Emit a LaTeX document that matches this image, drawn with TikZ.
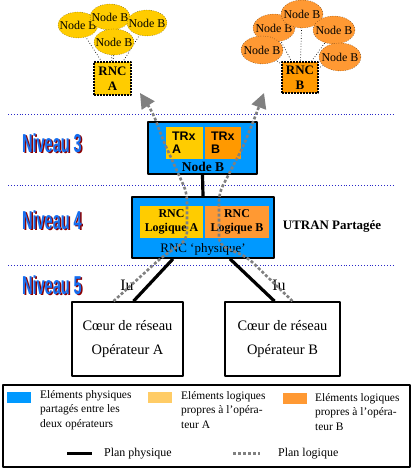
\documentclass[tikz,border=0pt]{standalone}
\usepackage{fontspec}
\setmainfont{Liberation Serif}
\newfontfamily\arialfont{Liberation Sans}
\usetikzlibrary{shapes.geometric,arrows.meta}
\pgfdeclarelayer{background}
\pgfsetlayers{background,main}
\definecolor{physblue}{RGB}{0,153,255}
\definecolor{yellowA}{RGB}{255,204,0}
\definecolor{yellowkey}{RGB}{255,204,102}
\definecolor{orangeB}{RGB}{255,153,0}
\definecolor{orangekey}{RGB}{255,153,51}
\definecolor{logicgray}{RGB}{128,128,128}
\definecolor{levelblue}{RGB}{40,40,200}
\definecolor{niveaublue}{RGB}{20,110,240}
\definecolor{niveaured}{RGB}{140,0,0}
\tikzset{
  level/.style={levelblue,dotted,line width=0.9bp},
  niveau/.style={font=\arialfont\bfseries\fontsize{26}{26}\selectfont,xscale=0.56,inner sep=0pt},
  physbox/.style={draw,line width=1.8bp,fill=physblue,inner sep=0pt},
  trx/.style={draw=none,inner xsep=6bp,inner ysep=0pt,text width=25bp,minimum height=32bp,align=left,font=\arialfont\bfseries\fontsize{12.5}{13}\selectfont},
  logrnc/.style={draw=none,inner sep=0pt,minimum height=32bp,align=center,font=\bfseries\fontsize{12}{14.5}\selectfont},
  rncop/.style={draw,dash pattern=on 2bp off 1bp,line width=1.2bp,inner sep=0pt,align=center,font=\bfseries\fontsize{13}{15}\selectfont},
  nodeBA/.style={ellipse,draw,dotted,fill=yellowA,inner sep=0pt,minimum width=40bp,minimum height=26bp,label={[font=\fontsize{12}{12}\selectfont]center:Node B}},
  nodeBB/.style={ellipse,draw,dotted,fill=orangekey,inner sep=0pt,minimum width=42bp,minimum height=28bp,label={[font=\fontsize{12}{12}\selectfont]center:Node B}},
  clusterlink/.style={dotted,line width=0.7bp},
  phys/.style={black,line width=3.2bp},
  logic/.style={logicgray,line width=2.6bp,dash pattern=on 3bp off 2bp,rounded corners=8bp},
  core/.style={draw,line width=1.6bp,inner sep=0pt,align=center,font=\fontsize{14.5}{25}\selectfont},
  keytext/.style={inner sep=0pt,anchor=north west,align=left,font=\fontsize{11.5}{14.5}\selectfont},
}
\begin{document}
\begin{tikzpicture}[>=latex,line join=bevel,]
\useasboundingbox (0bp,0bp) rectangle (417bp,469bp);
%% operator clusters
\node (nbA1) at (78bp,444bp) [nodeBA] {};
  \node (nbA2) at (110bp,452bp) [nodeBA] {};
  \node (nbA3) at (147bp,446bp) [nodeBA] {};
  \node (nbA4) at (114bp,427bp) [nodeBA] {};
  \node (rncopA) at (112.5bp,390.5bp) [rncop,fill=yellowA,minimum width=37bp,minimum height=33bp] {RNC\\A};
  \node (nbB2) at (274bp,441bp) [nodeBB] {};
  \node (nbB1) at (302bp,455bp) [nodeBB] {};
  \node (nbB3) at (262bp,419bp) [nodeBB] {};
  \node (nbB4) at (334bp,439bp) [nodeBB] {};
  \node (nbB5) at (340bp,412bp) [nodeBB] {};
  \node (rncopB) at (300bp,391.5bp) [rncop,fill=orangeB,minimum width=36bp,minimum height=31bp] {RNC\\B};
\begin{pgfonlayer}{background}
  \foreach \e in {nbA1,nbA2,nbA3,nbA4} \draw [clusterlink] (\e.center) -- (rncopA.center);
  \foreach \e in {nbB1,nbB2,nbB3,nbB4,nbB5} \draw [clusterlink] (\e.center) -- (rncopB.center);
\end{pgfonlayer}
%% levels
\draw [level] (8bp,355bp) -- (393bp,355bp);
  \draw [level] (8bp,284bp) -- (393bp,284bp);
  \draw [level] (8bp,204bp) -- (393bp,204bp);
  \node (niv3s) at (53.5bp,324.5bp) [niveau,niveaured] {Niveau 3};
  \node (niv3) at (52bp,326bp) [niveau,niveaublue] {Niveau 3};
  \node (niv4s) at (53.5bp,247.5bp) [niveau,niveaured] {Niveau 4};
  \node (niv4) at (52bp,249bp) [niveau,niveaublue] {Niveau 4};
  \node (niv5s) at (53.5bp,182.5bp) [niveau,niveaured] {Niveau 5};
  \node (niv5) at (52bp,184bp) [niveau,niveaublue] {Niveau 5};
%% shared UTRAN
\node (nodeb) at (202.5bp,321bp) [physbox,minimum width=109bp,minimum height=52bp] {};
  \node (trxA) at (184.5bp,326bp) [trx,fill=yellowA] {TRx\\A};
  \node (trxB) at (223bp,326bp) [trx,fill=orangeB,text width=24bp] {TRx\\B};
  \node (nodeblabel) at (203bp,302bp) [font=\bfseries\fontsize{13.5}{13.5}\selectfont,inner sep=0pt] {Node B};
  \node (rnc) at (203bp,241.5bp) [physbox,minimum width=142bp,minimum height=61bp] {};
  \node (rncA) at (171.5bp,247bp) [logrnc,fill=yellowA,minimum width=63bp] {RNC\\Logique A};
  \node (rncB) at (237bp,247bp) [logrnc,fill=orangekey,minimum width=64bp] {RNC\\Logique B};
  \node (rnclabel) at (203bp,220bp) [font=\fontsize{13}{13}\selectfont,inner sep=0pt] {RNC ‘physique’};
  \node (utran) at (332bp,243bp) [font=\bfseries\fontsize{13}{13}\selectfont] {UTRAN Partagée};
%% core networks
\node (coreA) at (127.5bp,130bp) [core,minimum width=111bp,minimum height=74bp] {Cœur de réseau\\Opérateur A};
  \node (coreB) at (282.5bp,130bp) [core,minimum width=115bp,minimum height=74bp] {Cœur de réseau\\Opérateur B};
  \node (iuA) at (127bp,184bp) [font=\fontsize{16}{16}\selectfont] {Iu};
  \node (iuB) at (279bp,184bp) [font=\fontsize{16}{16}\selectfont] {Iu};
  \draw [phys] (nodeb.south) -- (rnc.north);
  \draw [phys] ([xshift=-30bp]rnc.south) -- ([xshift=6bp]coreA.north);
  \draw [phys] ([xshift=27bp]rnc.south) -- ([xshift=-8bp]coreB.north);
%% logical plane
\coordinate (tipA) at (140bp,376bp);
  \coordinate (tipB) at (264bp,376bp);
  \draw [logic,-{Triangle[length=15bp,width=15bp]}] ([xshift=-14bp]coreA.north) -- (162bp,212bp) -- (187bp,229bp) -- (187bp,276bp) -- (163bp,329bp) -- (153bp,356bp) -- (tipA);
  \draw [logic,-{Triangle[length=15bp,width=15bp]}] ([xshift=10bp]coreB.north) -- (247bp,212bp) -- (219bp,224bp) -- (219bp,276bp) -- (243bp,322bp) -- (257bp,357bp) -- (tipB);
%% legend
\node (legend) at (206.5bp,43bp) [draw,line width=1.2bp,minimum width=407bp,minimum height=82bp] {};
  \node (swPhys) at (19bp,71.5bp) [fill=physblue,minimum width=24bp,minimum height=11bp,inner sep=0pt] {};
  \node (swA) at (160bp,71.5bp) [fill=yellowkey,minimum width=24bp,minimum height=11bp,inner sep=0pt] {};
  \node (swB) at (295bp,70.5bp) [fill=orangekey,minimum width=24bp,minimum height=11bp,inner sep=0pt] {};
  \node (txPhys) at (40bp,79bp) [keytext] {Eléments physiques\\partagés entre les\\deux opérateurs};
  \node (txA) at (181bp,78bp) [keytext] {Eléments logiques\\propres à l’opéra-\\teur A};
  \node (txB) at (315bp,76bp) [keytext] {Eléments logiques\\propres à l’opéra-\\teur B};
  \coordinate (kp1) at (67bp,15bp);
  \coordinate (kp2) at (92bp,15bp);
  \coordinate (kl1) at (233bp,15bp);
  \coordinate (kl2) at (260bp,15bp);
  \draw [phys,line width=3bp] (kp1) -- (kp2);
  \draw [logic,line width=3bp] (kl1) -- (kl2);
  \node (txPlanPhys) at (104bp,15bp) [anchor=west,inner sep=0pt,font=\fontsize{12}{12}\selectfont] {Plan physique};
  \node (txPlanLog) at (278bp,15bp) [anchor=west,inner sep=0pt,font=\fontsize{12}{12}\selectfont] {Plan logique};
%
\end{tikzpicture}
\end{document}
